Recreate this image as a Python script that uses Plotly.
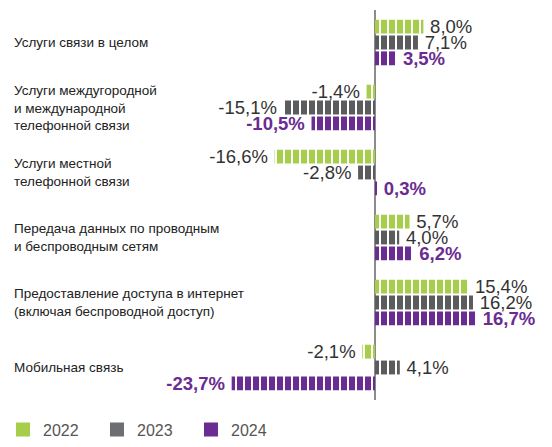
import plotly.graph_objects as go

categories = [
    "Услуги связи в целом",
    "Услуги междугородной<br>и международной<br>телефонной связи",
    "Услуги местной<br>телефонной связи",
    "Передача данных по проводным<br>и беспроводным сетям",
    "Предоставление доступа в интернет<br>(включая беспроводной доступ)",
    "Мобильная связь",
]
cat_ids = ["c1", "c2", "c3", "c4", "c5", "c6"]
years = ["2022", "2023", "2024"]
v2022 = [8.0, -1.4, -16.6, 5.7, 15.4, -2.1]
v2023 = [7.1, -15.1, -2.8, 4.0, 16.2, 4.1]
v2024 = [3.5, -10.5, 0.3, 6.2, 16.7, -23.7]

colors = ["#a6ce4b", "#5b5c5e", "#6a2c91"]
legend_colors = ["#a6ce4b", "#6d6e71", "#6a2c91"]

def fmt(v):
    s = f"{v:.1f}%".replace(".", ",")
    return s + "\u2009" if v < 0 else "\u2009" + s

fig = go.Figure()
series = [v2022, v2023, v2024]
for i, (yr, vals) in enumerate(zip(years, series)):
    bold = i == 2
    fig.add_trace(go.Bar(
        x=vals, y=cat_ids, orientation="h", name=yr, showlegend=False,
        marker=dict(color=colors[i], line=dict(width=0),
                    pattern=dict(shape="|", fgcolor="white", bgcolor=colors[i],
                                 size=8, solidity=0.25, fillmode="replace")),
        text=[fmt(v) for v in vals], textposition="outside",
        textfont=dict(family="Liberation Sans, Arial, sans-serif", size=18.5,
                      color=colors[2] if bold else "#333333",
                      weight="bold" if bold else "normal"),
        constraintext="none", cliponaxis=False,
    ))

for i, yr in enumerate(years):
    fig.add_trace(go.Scatter(
        x=[None], y=[None], mode="markers", name=yr,
        marker=dict(symbol="square", size=14, color=legend_colors[i]),
    ))

for cid, label in zip(cat_ids, categories):
    fig.add_annotation(
        x=-60, y=cid, xref="x", yref="y", text=label, showarrow=False,
        xanchor="left", yanchor="middle", align="left",
        font=dict(family="Liberation Sans, Arial, sans-serif", size=13.5, color="#222222"),
    )

fig.update_layout(
    width=552, height=447,
    margin=dict(l=0, r=0, t=10, b=43),
    paper_bgcolor="white", plot_bgcolor="white",
    barmode="group", bargap=0.269, bargroupgap=0.125,
    xaxis=dict(range=[-62, 29.26], showgrid=False, showticklabels=False,
               zeroline=True, zerolinecolor="#8c8c8c", zerolinewidth=2, fixedrange=True),
    yaxis=dict(categoryorder="array", categoryarray=cat_ids, autorange="reversed",
               showgrid=False, showticklabels=False, zeroline=False, fixedrange=True),
    legend=dict(orientation="h", x=0.0054, xanchor="left", y=-0.076, yanchor="middle",
                font=dict(family="Liberation Sans, Arial, sans-serif", size=16, color="#555555"),
                entrywidth=49, entrywidthmode="pixels", bgcolor="rgba(0,0,0,0)"),
    showlegend=True,
)

fig.write_html("out.html")
